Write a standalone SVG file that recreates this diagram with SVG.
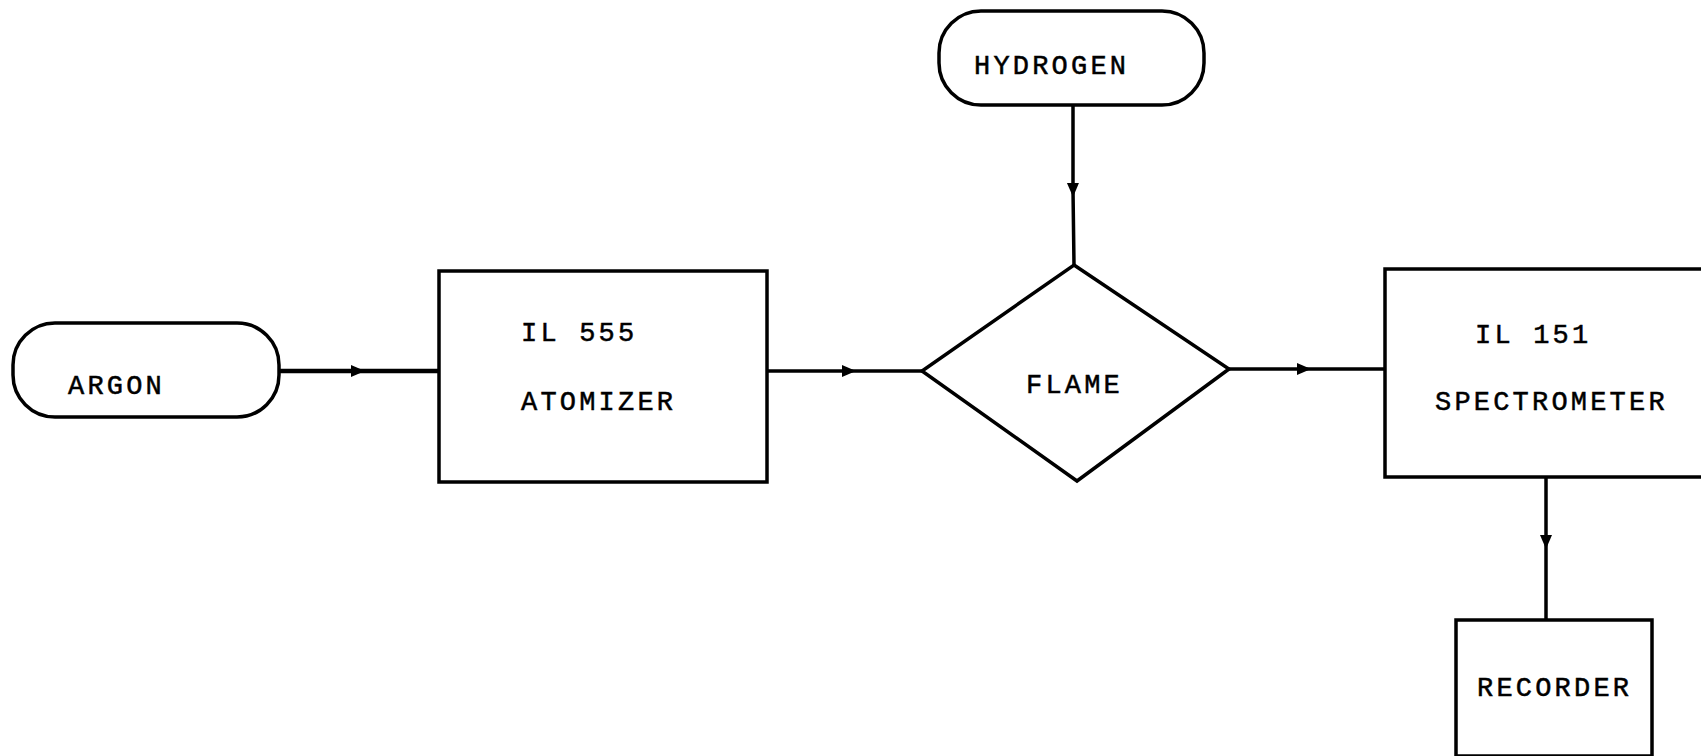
<svg xmlns="http://www.w3.org/2000/svg" width="1701" height="756" viewBox="0 0 1701 756">
<style>
.shape{fill:#fff;stroke:#000;stroke-width:3.5}
.conn{fill:none;stroke:#000;stroke-width:3.5}
.thick{stroke-width:4.5}
.lbl{font-family:"Liberation Mono","DejaVu Sans Mono",monospace;font-size:27px;letter-spacing:3.2px;fill:#000;stroke:#000;stroke-width:0.5}
</style>
<defs>
<marker id="arr" viewBox="0 0 14 14" refX="7" refY="7" markerWidth="14" markerHeight="14" markerUnits="userSpaceOnUse" orient="auto">
<path d="M0,1 L14,7 L0,13 Z" fill="#000"/>
</marker>
</defs>
<rect width="1701" height="756" fill="#fff"/>
<g id="connectors">
<polyline class="conn thick" points="279,371 358,371 439,371" marker-mid="url(#arr)"/>
<polyline class="conn" points="767,371 849,371 922,371" marker-mid="url(#arr)"/>
<polyline class="conn" points="1073,105 1073,190 1074,265" marker-mid="url(#arr)"/>
<polyline class="conn" points="1229,369 1304,369 1385,369" marker-mid="url(#arr)"/>
<polyline class="conn" points="1546,477 1546,542 1546,620" marker-mid="url(#arr)"/>
</g>
<g id="argon">
<rect class="shape" x="13" y="323" width="266" height="94" rx="42"/>
<text class="lbl" x="68" y="394">ARGON</text>
</g>
<g id="atomizer">
<rect class="shape" x="439" y="271" width="328" height="211"/>
<text class="lbl" x="521" y="341">IL 555</text>
<text class="lbl" x="521" y="410">ATOMIZER</text>
</g>
<g id="hydrogen">
<rect class="shape" x="939" y="11" width="265" height="94" rx="42"/>
<text class="lbl" x="974" y="74">HYDROGEN</text>
</g>
<g id="flame">
<polygon class="shape" points="1074,265 1229,369 1077,481 922,371"/>
<text class="lbl" x="1026" y="393">FLAME</text>
</g>
<g id="spectrometer">
<rect class="shape" x="1385" y="269" width="330" height="208"/>
<text class="lbl" x="1475" y="343">IL 151</text>
<text class="lbl" x="1435" y="410">SPECTROMETER</text>
</g>
<g id="recorder">
<rect class="shape" x="1456" y="620" width="196" height="136"/>
<text class="lbl" x="1477" y="696">RECORDER</text>
</g>
</svg>
